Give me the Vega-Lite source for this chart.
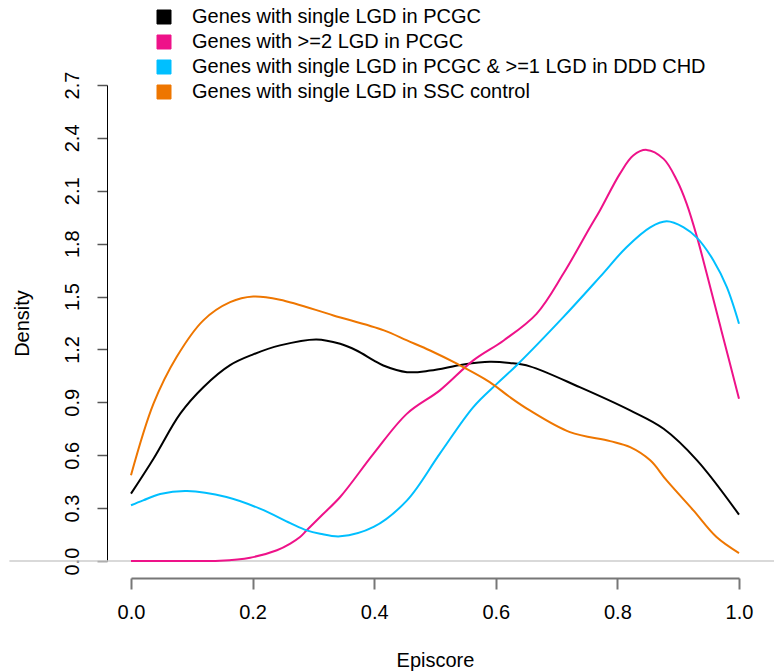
{
  "$schema": "https://vega.github.io/schema/vega-lite/v6.json",
  "autosize": {"type": "none"},
  "width": 608,
  "height": 476,
  "padding": {"left": 131, "top": 85, "right": 35, "bottom": 110},
  "background": "white",
  "config": {
    "view": {"stroke": null},
    "font": "Liberation Sans",
    "axis": {"labelFont": "Liberation Sans", "titleFont": "Liberation Sans", "labelColor": "black", "titleColor": "black", "grid": false, "titleFontWeight": "normal", "labelFlush": false}
  },
  "datasets": {
    "curves": [
      {"group": "Genes with single LGD in PCGC", "x": 0.0, "y": 0.382},
      {"group": "Genes with single LGD in PCGC", "x": 0.037, "y": 0.58},
      {"group": "Genes with single LGD in PCGC", "x": 0.081, "y": 0.836},
      {"group": "Genes with single LGD in PCGC", "x": 0.119, "y": 0.986},
      {"group": "Genes with single LGD in PCGC", "x": 0.163, "y": 1.111},
      {"group": "Genes with single LGD in PCGC", "x": 0.201, "y": 1.172},
      {"group": "Genes with single LGD in PCGC", "x": 0.245, "y": 1.223},
      {"group": "Genes with single LGD in PCGC", "x": 0.305, "y": 1.257},
      {"group": "Genes with single LGD in PCGC", "x": 0.344, "y": 1.232},
      {"group": "Genes with single LGD in PCGC", "x": 0.371, "y": 1.194},
      {"group": "Genes with single LGD in PCGC", "x": 0.399, "y": 1.138},
      {"group": "Genes with single LGD in PCGC", "x": 0.415, "y": 1.109},
      {"group": "Genes with single LGD in PCGC", "x": 0.454, "y": 1.071},
      {"group": "Genes with single LGD in PCGC", "x": 0.492, "y": 1.08},
      {"group": "Genes with single LGD in PCGC", "x": 0.547, "y": 1.115},
      {"group": "Genes with single LGD in PCGC", "x": 0.59, "y": 1.13},
      {"group": "Genes with single LGD in PCGC", "x": 0.623, "y": 1.123},
      {"group": "Genes with single LGD in PCGC", "x": 0.656, "y": 1.104},
      {"group": "Genes with single LGD in PCGC", "x": 0.738, "y": 0.986},
      {"group": "Genes with single LGD in PCGC", "x": 0.821, "y": 0.854},
      {"group": "Genes with single LGD in PCGC", "x": 0.876, "y": 0.75},
      {"group": "Genes with single LGD in PCGC", "x": 0.931, "y": 0.571},
      {"group": "Genes with single LGD in PCGC", "x": 1.0, "y": 0.263},
      {"group": "Genes with >=2 LGD in PCGC", "x": 0.0, "y": 0.0},
      {"group": "Genes with >=2 LGD in PCGC", "x": 0.07, "y": 0.0},
      {"group": "Genes with >=2 LGD in PCGC", "x": 0.146, "y": 0.002},
      {"group": "Genes with >=2 LGD in PCGC", "x": 0.196, "y": 0.019},
      {"group": "Genes with >=2 LGD in PCGC", "x": 0.24, "y": 0.061},
      {"group": "Genes with >=2 LGD in PCGC", "x": 0.262, "y": 0.099},
      {"group": "Genes with >=2 LGD in PCGC", "x": 0.278, "y": 0.136},
      {"group": "Genes with >=2 LGD in PCGC", "x": 0.289, "y": 0.174},
      {"group": "Genes with >=2 LGD in PCGC", "x": 0.311, "y": 0.25},
      {"group": "Genes with >=2 LGD in PCGC", "x": 0.344, "y": 0.363},
      {"group": "Genes with >=2 LGD in PCGC", "x": 0.399, "y": 0.609},
      {"group": "Genes with >=2 LGD in PCGC", "x": 0.454, "y": 0.836},
      {"group": "Genes with >=2 LGD in PCGC", "x": 0.508, "y": 0.968},
      {"group": "Genes with >=2 LGD in PCGC", "x": 0.563, "y": 1.138},
      {"group": "Genes with >=2 LGD in PCGC", "x": 0.613, "y": 1.251},
      {"group": "Genes with >=2 LGD in PCGC", "x": 0.667, "y": 1.402},
      {"group": "Genes with >=2 LGD in PCGC", "x": 0.711, "y": 1.629},
      {"group": "Genes with >=2 LGD in PCGC", "x": 0.755, "y": 1.893},
      {"group": "Genes with >=2 LGD in PCGC", "x": 0.771, "y": 1.987},
      {"group": "Genes with >=2 LGD in PCGC", "x": 0.804, "y": 2.196},
      {"group": "Genes with >=2 LGD in PCGC", "x": 0.826, "y": 2.3},
      {"group": "Genes with >=2 LGD in PCGC", "x": 0.848, "y": 2.332},
      {"group": "Genes with >=2 LGD in PCGC", "x": 0.876, "y": 2.281},
      {"group": "Genes with >=2 LGD in PCGC", "x": 0.898, "y": 2.158},
      {"group": "Genes with >=2 LGD in PCGC", "x": 0.914, "y": 2.026},
      {"group": "Genes with >=2 LGD in PCGC", "x": 0.931, "y": 1.837},
      {"group": "Genes with >=2 LGD in PCGC", "x": 0.947, "y": 1.629},
      {"group": "Genes with >=2 LGD in PCGC", "x": 0.971, "y": 1.308},
      {"group": "Genes with >=2 LGD in PCGC", "x": 1.0, "y": 0.921},
      {"group": "Genes with single LGD in PCGC & >=1 LGD in DDD CHD", "x": 0.0, "y": 0.316},
      {"group": "Genes with single LGD in PCGC & >=1 LGD in DDD CHD", "x": 0.02, "y": 0.344},
      {"group": "Genes with single LGD in PCGC & >=1 LGD in DDD CHD", "x": 0.048, "y": 0.38},
      {"group": "Genes with single LGD in PCGC & >=1 LGD in DDD CHD", "x": 0.092, "y": 0.397},
      {"group": "Genes with single LGD in PCGC & >=1 LGD in DDD CHD", "x": 0.157, "y": 0.363},
      {"group": "Genes with single LGD in PCGC & >=1 LGD in DDD CHD", "x": 0.212, "y": 0.297},
      {"group": "Genes with single LGD in PCGC & >=1 LGD in DDD CHD", "x": 0.262, "y": 0.215},
      {"group": "Genes with single LGD in PCGC & >=1 LGD in DDD CHD", "x": 0.289, "y": 0.174},
      {"group": "Genes with single LGD in PCGC & >=1 LGD in DDD CHD", "x": 0.311, "y": 0.155},
      {"group": "Genes with single LGD in PCGC & >=1 LGD in DDD CHD", "x": 0.344, "y": 0.14},
      {"group": "Genes with single LGD in PCGC & >=1 LGD in DDD CHD", "x": 0.399, "y": 0.193},
      {"group": "Genes with single LGD in PCGC & >=1 LGD in DDD CHD", "x": 0.454, "y": 0.344},
      {"group": "Genes with single LGD in PCGC & >=1 LGD in DDD CHD", "x": 0.508, "y": 0.609},
      {"group": "Genes with single LGD in PCGC & >=1 LGD in DDD CHD", "x": 0.563, "y": 0.873},
      {"group": "Genes with single LGD in PCGC & >=1 LGD in DDD CHD", "x": 0.602, "y": 1.006},
      {"group": "Genes with single LGD in PCGC & >=1 LGD in DDD CHD", "x": 0.634, "y": 1.109},
      {"group": "Genes with single LGD in PCGC & >=1 LGD in DDD CHD", "x": 0.711, "y": 1.383},
      {"group": "Genes with single LGD in PCGC & >=1 LGD in DDD CHD", "x": 0.771, "y": 1.61},
      {"group": "Genes with single LGD in PCGC & >=1 LGD in DDD CHD", "x": 0.815, "y": 1.78},
      {"group": "Genes with single LGD in PCGC & >=1 LGD in DDD CHD", "x": 0.854, "y": 1.893},
      {"group": "Genes with single LGD in PCGC & >=1 LGD in DDD CHD", "x": 0.881, "y": 1.927},
      {"group": "Genes with single LGD in PCGC & >=1 LGD in DDD CHD", "x": 0.909, "y": 1.893},
      {"group": "Genes with single LGD in PCGC & >=1 LGD in DDD CHD", "x": 0.931, "y": 1.833},
      {"group": "Genes with single LGD in PCGC & >=1 LGD in DDD CHD", "x": 0.958, "y": 1.705},
      {"group": "Genes with single LGD in PCGC & >=1 LGD in DDD CHD", "x": 0.98, "y": 1.553},
      {"group": "Genes with single LGD in PCGC & >=1 LGD in DDD CHD", "x": 1.0, "y": 1.346},
      {"group": "Genes with single LGD in SSC control", "x": 0.0, "y": 0.486},
      {"group": "Genes with single LGD in SSC control", "x": 0.037, "y": 0.892},
      {"group": "Genes with single LGD in SSC control", "x": 0.075, "y": 1.157},
      {"group": "Genes with single LGD in SSC control", "x": 0.119, "y": 1.365},
      {"group": "Genes with single LGD in SSC control", "x": 0.163, "y": 1.468},
      {"group": "Genes with single LGD in SSC control", "x": 0.201, "y": 1.5},
      {"group": "Genes with single LGD in SSC control", "x": 0.245, "y": 1.482},
      {"group": "Genes with single LGD in SSC control", "x": 0.333, "y": 1.393},
      {"group": "Genes with single LGD in SSC control", "x": 0.416, "y": 1.308},
      {"group": "Genes with single LGD in SSC control", "x": 0.454, "y": 1.251},
      {"group": "Genes with single LGD in SSC control", "x": 0.492, "y": 1.194},
      {"group": "Genes with single LGD in SSC control", "x": 0.536, "y": 1.119},
      {"group": "Genes with single LGD in SSC control", "x": 0.59, "y": 1.015},
      {"group": "Genes with single LGD in SSC control", "x": 0.623, "y": 0.93},
      {"group": "Genes with single LGD in SSC control", "x": 0.656, "y": 0.854},
      {"group": "Genes with single LGD in SSC control", "x": 0.722, "y": 0.731},
      {"group": "Genes with single LGD in SSC control", "x": 0.788, "y": 0.68},
      {"group": "Genes with single LGD in SSC control", "x": 0.821, "y": 0.646},
      {"group": "Genes with single LGD in SSC control", "x": 0.854, "y": 0.571},
      {"group": "Genes with single LGD in SSC control", "x": 0.881, "y": 0.457},
      {"group": "Genes with single LGD in SSC control", "x": 0.925, "y": 0.287},
      {"group": "Genes with single LGD in SSC control", "x": 0.963, "y": 0.136},
      {"group": "Genes with single LGD in SSC control", "x": 1.0, "y": 0.045}
    ],
    "zero": [{"x": -0.2, "x2": 1.06, "y": 0}]
  },
  "layer": [
    {
      "data": {"name": "zero"},
      "mark": {"type": "rule", "color": "#cccccc", "strokeWidth": 1.5},
      "encoding": {
        "x": {"field": "x", "type": "quantitative"},
        "x2": {"field": "x2"},
        "y": {"field": "y", "type": "quantitative"}
      }
    },
    {
      "data": {"name": "curves"},
      "mark": {"type": "line", "strokeWidth": 2, "interpolate": "catmull-rom"},
      "encoding": {
        "x": {
          "field": "x", "type": "quantitative",
          "scale": {"domain": [0, 1], "nice": false, "zero": false},
          "axis": {
            "title": "Episcore", "values": [0, 0.2, 0.4, 0.6, 0.8, 1.0], "format": ".1f",
            "offset": 17, "domainColor": "#777777", "domainWidth": 2, "tickColor": "#777777", "tickWidth": 2, "tickSize": 11,
            "labelFontSize": 20, "labelPadding": 13, "titleFontSize": 20, "titlePadding": 28
          }
        },
        "y": {
          "field": "y", "type": "quantitative",
          "scale": {"domain": [0, 2.7], "nice": false, "zero": false},
          "axis": {
            "title": "Density", "values": [0, 0.3, 0.6, 0.9, 1.2, 1.5, 1.8, 2.1, 2.4, 2.7], "format": ".1f",
            "offset": 24, "domainColor": "black", "domainWidth": 1, "tickColor": "#555555", "tickWidth": 1.5, "tickSize": 10,
            "labelAngle": -90, "labelAlign": "center", "labelBaseline": "alphabetic", "labelFontSize": 20, "labelPadding": 19,
            "titleFontSize": 20, "titlePadding": 30
          }
        },
        "color": {
          "field": "group", "type": "nominal",
          "scale": {
            "domain": ["Genes with single LGD in PCGC", "Genes with >=2 LGD in PCGC", "Genes with single LGD in PCGC & >=1 LGD in DDD CHD", "Genes with single LGD in SSC control"],
            "range": ["#000000", "#EE1289", "#00BFFF", "#EE7600"]
          },
          "legend": {
            "title": null, "orient": "none", "legendX": 23, "legendY": -78,
            "symbolType": "square", "symbolSize": 196, "symbolStrokeColor": "black", "symbolStrokeWidth": 1, "symbolOpacity": 1,
            "labelFontSize": 20, "labelFont": "Liberation Sans", "labelColor": "black", "labelOffset": 18, "rowPadding": 5, "labelLimit": 700, "padding": 0,
            "encode": {
              "symbols": {
                "update": {
                  "fill": {"scale": "color", "field": "value"},
                  "stroke": {"value": "black"},
                  "strokeWidth": {"value": 1}
                }
              }
            }
          }
        }
      }
    }
  ]
}
